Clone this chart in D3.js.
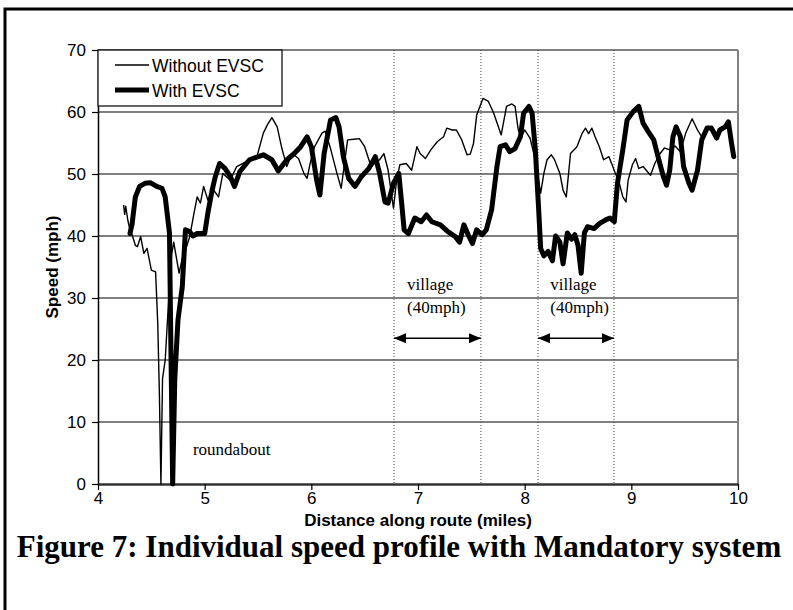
<!DOCTYPE html>
<html>
<head>
<meta charset="utf-8">
<script src="https://cdn.jsdelivr.net/npm/d3@7/dist/d3.min.js"></script>
<style>
  body { margin: 0; background: #fff; }
  svg { display: block; }
</style>
</head>
<body>
<div id="chart"></div>
<script>
// Speed profile data (miles, mph)
var milesWithout = [4.24, 4.25, 4.26, 4.28, 4.30, 4.32, 4.35, 4.37, 4.40, 4.43, 4.46, 4.50, 4.54, 4.56, 4.575, 4.59,
  4.605, 4.63, 4.66, 4.69, 4.71, 4.73, 4.76, 4.79, 4.82, 4.86, 4.90, 4.93, 4.96, 4.99, 5.03, 5.08, 5.13, 5.17,
  5.24, 5.30, 5.39, 5.49, 5.55, 5.59, 5.63, 5.68, 5.72, 5.77, 5.82, 5.88, 5.93, 5.96, 5.99, 6.03, 6.10, 6.13,
  6.18, 6.24, 6.28, 6.34, 6.40, 6.45, 6.50, 6.56, 6.64, 6.68, 6.72, 6.75, 6.77, 6.80, 6.83, 6.89, 6.94, 6.99,
  7.02, 7.07, 7.12, 7.18, 7.24, 7.27, 7.32, 7.36, 7.41, 7.46, 7.49, 7.52, 7.55, 7.61, 7.66, 7.71, 7.78, 7.83,
  7.88, 7.91, 7.94, 7.97, 8.00, 8.05, 8.09, 8.13, 8.15, 8.18, 8.21, 8.25, 8.28, 8.33, 8.36, 8.39, 8.43, 8.49,
  8.54, 8.57, 8.60, 8.63, 8.66, 8.70, 8.74, 8.79, 8.82, 8.85, 8.88, 8.92, 8.95, 8.97, 9.01, 9.04, 9.07, 9.11,
  9.18, 9.22, 9.27, 9.31, 9.36, 9.41, 9.46, 9.51, 9.57, 9.62, 9.66, 9.71, 9.76, 9.80, 9.85, 9.90, 9.93, 9.96];
var speedWithout = [45, 43.5, 44.8, 42.5, 41, 40.2, 38.5, 38.3, 39.9, 37.2, 38, 34.5, 34.2, 26, 15, 0,
  17, 20, 29, 37, 39, 37, 34, 36.4, 37.7, 39.9, 43.7, 46.3, 45.3, 48, 45.8, 47.5, 46.3, 50.1,
  49, 51.2, 52, 52.8, 56.6, 58, 59.1, 57.6, 54.4, 51.2, 53.3, 52.5, 50.1, 49.3, 51.8, 54.4, 56.6, 56.9,
  54.1, 50.1, 47.7, 55.5, 55.6, 55.7, 54.4, 51.2, 52.3, 53.3, 50.6, 46.9, 44.5, 49, 51.5, 51.7, 50.6, 54.4,
  53.3, 52.5, 53.9, 55.2, 56, 57.4, 57.1, 57.1, 55.5, 53.1, 53.2, 54.9, 59.5, 62.2, 61.7, 59.8, 56.3, 60.9,
  61.3, 60.9, 57.1, 56, 57.1, 55.8, 53, 49, 46.9, 50.1, 52.3, 53.1, 52.3, 50.1, 47.4, 46.3, 53.3, 54.4,
  56.6, 57.4, 56.5, 57.4, 56, 54.4, 52.3, 52.8, 51.5, 50.1, 49, 46.3, 45.5, 49, 51.5, 52.5, 50.9, 51.2,
  49.8, 51.7, 53.3, 54.2, 53.9, 54.5, 53.6, 56.6, 58.9, 57.1, 56, 57.2, 57.5, 56.5, 57, 57.8, 55.5, 53];

var milesWith = [4.30, 4.32, 4.35, 4.39, 4.44, 4.49, 4.55, 4.60, 4.63, 4.67, 4.685, 4.70, 4.72, 4.75, 4.79, 4.82,
  4.86, 4.89, 4.93, 5.00, 5.03, 5.07, 5.10, 5.14, 5.19, 5.24, 5.28, 5.33, 5.42, 5.55, 5.63, 5.69, 5.77, 5.84,
  5.90, 5.96, 6.00, 6.05, 6.08, 6.12, 6.18, 6.23, 6.26, 6.30, 6.35, 6.41, 6.47, 6.54, 6.60, 6.64, 6.69, 6.72,
  6.77, 6.82, 6.85, 6.87, 6.91, 6.97, 7.03, 7.08, 7.13, 7.21, 7.28, 7.35, 7.39, 7.43, 7.47, 7.51, 7.55, 7.60,
  7.64, 7.69, 7.74, 7.77, 7.82, 7.86, 7.91, 7.96, 7.99, 8.04, 8.07, 8.10, 8.13, 8.15, 8.18, 8.22, 8.26, 8.29,
  8.33, 8.36, 8.40, 8.44, 8.47, 8.50, 8.53, 8.56, 8.59, 8.65, 8.70, 8.76, 8.80, 8.84, 8.87, 8.92, 8.96, 9.02,
  9.07, 9.11, 9.16, 9.21, 9.25, 9.30, 9.33, 9.36, 9.39, 9.42, 9.46, 9.49, 9.54, 9.57, 9.62, 9.66, 9.71, 9.75,
  9.80, 9.83, 9.88, 9.91, 9.94, 9.96];
var speedWith = [40.4, 42, 46.3, 48, 48.5, 48.6, 48, 47.7, 46.3, 40.5, 20, 0, 17, 26.5, 31.8, 41,
  40.7, 40, 40.4, 40.4, 43.7, 47.4, 49.6, 51.7, 50.9, 49.6, 48, 50.4, 52.3, 53.1, 52.3, 50.5, 52.3, 53.3,
  54.4, 56, 54.4, 49, 46.6, 53.3, 58.7, 59.1, 57.6, 52.8, 49.3, 48, 49.6, 50.9, 52.8, 50.1, 45.5, 45.3,
  48.5, 50.1, 44.7, 41, 40.4, 42.9, 42.3, 43.4, 42.3, 41.8, 40.7, 39.9, 39, 41.8, 40.2, 38.8, 41, 40.2,
  41, 44.2, 51.2, 54.4, 54.7, 53.6, 54.1, 56, 59.8, 60.9, 59.8, 53.9, 44.7, 38, 36.8, 37.5, 36, 40,
  39, 35.5, 40.5, 39.5, 40.2, 38.5, 34, 40.5, 41.5, 41.2, 42, 42.6, 42.9, 42.3, 48.5, 53.9, 58.7, 60.1,
  60.9, 58.2, 56.8, 55.5, 52.8, 49.6, 48.2, 50.6, 56, 57.6, 56, 51.2, 48.5, 47.4, 50.6, 55.5, 57.4, 57.4,
  55.8, 57.1, 57.6, 58.4, 54.9, 52.8];

var xTicks = [4, 5, 6, 7, 8, 9, 10];
var yTicks = [0, 10, 20, 30, 40, 50, 60, 70];
var villageBounds = [6.775, 7.59, 8.125, 8.837];   // dotted lines (miles)
var villageArrows = [[6.775, 7.59], [8.125, 8.837]];
var villageLabelAt = [6.897, 8.24];
var seriesNames = ['Without EVSC', 'With EVSC'];

var W = 793, H = 610;
var x = d3.scaleLinear().domain([4, 10]).range([98, 738]);
var y = d3.scaleLinear().domain([0, 70]).range([484, 50]);

var svg = d3.select('#chart').append('svg')
    .attr('width', W).attr('height', H)
    .style('font-family', 'Arial, "Liberation Sans", sans-serif');

svg.append('rect').attr('width', W).attr('height', H).attr('fill', '#fff');

// outer frame (runs off the right and bottom edges)
svg.append('rect')
    .attr('x', 5).attr('y', 9).attr('width', 900).attr('height', 800)
    .attr('fill', 'none').attr('stroke', '#000').attr('stroke-width', 3);

// gridlines
svg.append('g').selectAll('line')
    .data(yTicks.slice(1))
    .enter().append('line')
    .attr('x1', x(4)).attr('x2', x(10))
    .attr('y1', function(d) { return y(d); })
    .attr('y2', function(d) { return y(d); })
    .attr('stroke', '#808080').attr('stroke-width', 2);

// right border of plot area
svg.append('line')
    .attr('x1', x(10)).attr('x2', x(10)).attr('y1', y(70)).attr('y2', y(0))
    .attr('stroke', '#808080').attr('stroke-width', 2);

// village boundaries
svg.append('g').selectAll('line')
    .data(villageBounds)
    .enter().append('line')
    .attr('x1', function(d) { return x(d); })
    .attr('x2', function(d) { return x(d); })
    .attr('y1', y(70)).attr('y2', y(0))
    .attr('stroke', '#444').attr('stroke-width', 1)
    .attr('stroke-dasharray', '1,2');

// axes
var yAxis = svg.append('g')
    .attr('transform', 'translate(' + x(4) + ',0)')
    .call(d3.axisLeft(y).tickValues(yTicks).tickSize(6).tickSizeOuter(0).tickPadding(6));
var xAxis = svg.append('g')
    .attr('transform', 'translate(0,' + y(0) + ')')
    .call(d3.axisBottom(x).tickValues(xTicks).tickFormat(d3.format('d'))
        .tickSize(6).tickSizeOuter(0).tickPadding(2));

yAxis.select('.domain').attr('stroke', '#000').attr('stroke-width', 1.5);
xAxis.select('.domain').attr('stroke', '#333').attr('stroke-width', 2.5);
svg.selectAll('.tick line').attr('stroke', '#000').attr('stroke-width', 1.2);
svg.selectAll('.tick text')
    .attr('font-size', '17px').attr('fill', '#000')
    .attr('font-family', 'Arial, "Liberation Sans", sans-serif');

// series lines
var lineGen = d3.line()
    .x(function(d) { return x(d[0]); })
    .y(function(d) { return y(d[1]); });

var without = d3.zip(milesWithout, speedWithout);
var withEvsc = d3.zip(milesWith, speedWith);

svg.append('path')
    .datum(without)
    .attr('d', lineGen)
    .attr('fill', 'none').attr('stroke', '#000')
    .attr('stroke-width', 1.4).attr('stroke-linejoin', 'round');

svg.append('path')
    .datum(withEvsc)
    .attr('d', lineGen)
    .attr('fill', 'none').attr('stroke', '#000')
    .attr('stroke-width', 5).attr('stroke-linejoin', 'round').attr('stroke-linecap', 'round');

// arrow markers
var defs = svg.append('defs');
defs.append('marker')
    .attr('id', 'arrowEnd').attr('viewBox', '0 0 12 10')
    .attr('refX', 12).attr('refY', 5)
    .attr('markerWidth', 12).attr('markerHeight', 10)
    .attr('markerUnits', 'userSpaceOnUse').attr('orient', 'auto')
    .append('path').attr('d', 'M0,0L12,5L0,10Z').attr('fill', '#000');
defs.append('marker')
    .attr('id', 'arrowStart').attr('viewBox', '0 0 12 10')
    .attr('refX', 0).attr('refY', 5)
    .attr('markerWidth', 12).attr('markerHeight', 10)
    .attr('markerUnits', 'userSpaceOnUse').attr('orient', 'auto')
    .append('path').attr('d', 'M12,0L0,5L12,10Z').attr('fill', '#000');

svg.append('g').selectAll('line')
    .data(villageArrows)
    .enter().append('line')
    .attr('x1', function(d) { return x(d[0]); })
    .attr('x2', function(d) { return x(d[1]); })
    .attr('y1', y(23.5)).attr('y2', y(23.5))
    .attr('stroke', '#000').attr('stroke-width', 1.5)
    .attr('marker-start', 'url(#arrowStart)')
    .attr('marker-end', 'url(#arrowEnd)');

// annotations
var serif = '"Times New Roman", "Liberation Serif", serif';
villageLabelAt.forEach(function(m) {
    svg.append('text').attr('x', x(m)).attr('y', y(31.3))
        .attr('font-family', serif).attr('font-size', '17px').text('village');
    svg.append('text').attr('x', x(m)).attr('y', y(27.6))
        .attr('font-family', serif).attr('font-size', '17px').text('(40mph)');
});
svg.append('text').attr('x', x(4.89)).attr('y', y(4.7))
    .attr('font-family', serif).attr('font-size', '17px').text('roundabout');

// legend
var legend = svg.append('g');
legend.append('rect')
    .attr('x', x(4)).attr('y', y(70)).attr('width', 184).attr('height', 56)
    .attr('fill', '#fff').attr('stroke', '#000').attr('stroke-width', 1.2);
[1.4, 5].forEach(function(w, i) {
    var ly = y(70) + 15 + i * 25;
    legend.append('line')
        .attr('x1', 115).attr('x2', 149).attr('y1', ly).attr('y2', ly)
        .attr('stroke', '#000').attr('stroke-width', w);
    legend.append('text')
        .attr('x', 152).attr('y', ly + 6.5)
        .attr('font-size', '17.5px').text(seriesNames[i]);
});

// axis titles
svg.append('text')
    .attr('x', (x(4) + x(10)) / 2).attr('y', 526)
    .attr('text-anchor', 'middle').attr('font-weight', 'bold').attr('font-size', '17px')
    .text('Distance along route (miles)');
svg.append('text')
    .attr('transform', 'translate(58,' + y(35) + ') rotate(-90)')
    .attr('text-anchor', 'middle').attr('font-weight', 'bold').attr('font-size', '17px')
    .text('Speed (mph)');

// figure caption
svg.append('text')
    .attr('x', 399).attr('y', 557)
    .attr('text-anchor', 'middle').attr('font-weight', 'bold')
    .attr('font-family', serif).attr('font-size', '31px')
    .text('Figure 7: Individual speed profile with Mandatory system');
</script>
</body>
</html>
